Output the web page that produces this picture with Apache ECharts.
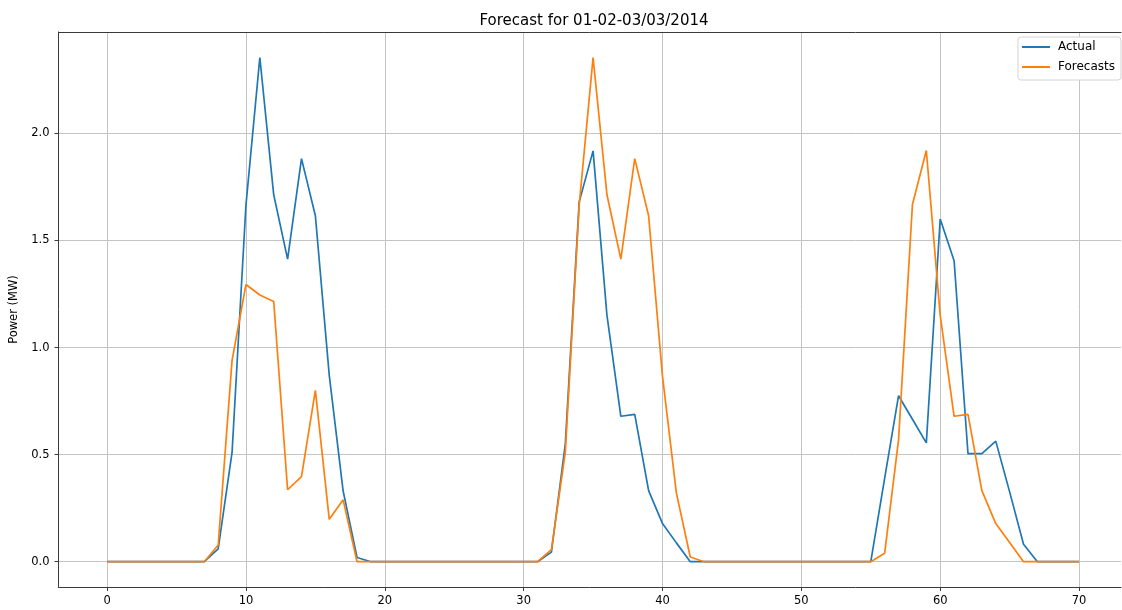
<!DOCTYPE html>
<html>
<head>
<meta charset="utf-8">
<script src="https://cdn.jsdelivr.net/npm/echarts@6/dist/echarts.min.js"></script>
<style>
html,body{margin:0;padding:0;background:#fff;}
#main{width:1122px;height:610px;}
</style>
</head>
<body>
<div id="main"></div>
<script>
var titleText = 'Forecast for 01-02-03/03/2014';
var yAxisName = 'Power (MW)';
var seriesNames = ['Actual', 'Forecasts'];
var xTicks = [0, 10, 20, 30, 40, 50, 60, 70];
var yTicks = [0, 0.5, 1.0, 1.5, 2.0];

var actual = [
  0, 0, 0, 0, 0, 0, 0, 0, 0.06, 0.51,
  1.665, 2.354, 1.713, 1.413, 1.882, 1.615, 0.87, 0.33, 0.02, 0,
  0, 0, 0, 0, 0, 0, 0, 0, 0, 0,
  0, 0, 0.045, 0.55, 1.68, 1.918, 1.15, 0.679, 0.688, 0.332,
  0.178, 0.088, 0, 0, 0, 0, 0, 0, 0, 0,
  0, 0, 0, 0, 0, 0, 0.39, 0.775, 0.665, 0.555,
  1.60, 1.405, 0.505, 0.505, 0.563, 0.326, 0.082, 0, 0, 0,
  0
];
var forecasts = [
  0, 0, 0, 0, 0, 0, 0, 0, 0.078, 0.94,
  1.294, 1.245, 1.215, 0.336, 0.397, 0.80, 0.198, 0.289, 0, 0,
  0, 0, 0, 0, 0, 0, 0, 0, 0, 0,
  0, 0, 0.056, 0.51, 1.665, 2.354, 1.713, 1.413, 1.882, 1.615,
  0.865, 0.32, 0.022, 0, 0, 0, 0, 0, 0, 0,
  0, 0, 0, 0, 0, 0, 0.04, 0.57, 1.668, 1.92,
  1.15, 0.679, 0.688, 0.332, 0.178, 0.09, 0, 0, 0, 0,
  0
];

function pairs(arr){ return arr.map(function(v,i){ return [i, v]; }); }

var chart = echarts.init(document.getElementById('main'), null, {renderer:'canvas'});
var font = 'DejaVu Sans';
var spine = '#3a3a3a';
var gridCol = '#c4c4c4';
chart.setOption({
  animation: false,
  backgroundColor: '#fff',
  title: {
    text: titleText,
    left: 589, top: 9, textAlign: 'center',
    textStyle: {fontFamily: font, fontSize: 15, fontWeight: 'normal', color: '#000'}
  },
  legend: {
    data: seriesNames,
    orient: 'vertical',
    right: 1, top: 37,
    icon: 'rect',
    itemWidth: 28, itemHeight: 2,
    itemGap: 6,
    padding: [3, 6, 6, 4],
    backgroundColor: '#fff',
    borderColor: '#d4d4d4', borderWidth: 1, borderRadius: 3,
    textStyle: {fontFamily: font, fontSize: 12, color: '#000', lineHeight: 14, padding: [0, 0, 0, 3]}
  },
  grid: {left: 58.5, top: 32, right: 1, bottom: 23, show: false, containLabel: false},
  xAxis: [{
    type: 'value', min: -3.5, max: 73.02, position: 'bottom',
    axisLine: {show: true, onZero: false, lineStyle: {color: spine, width: 1}},
    axisTick: {show: true, inside: false, length: 4, lineStyle: {color: spine}, customValues: xTicks},
    axisLabel: {customValues: xTicks, fontFamily: font, fontSize: 11.5, color: '#000', margin: 8},
    splitLine: {show: true, lineStyle: {color: gridCol, width: 1}}
  }, {
    type: 'value', min: -3.5, max: 73.02, position: 'top',
    axisLine: {show: true, onZero: false, lineStyle: {color: spine, width: 1}},
    axisTick: {show: false}, axisLabel: {show: false}, splitLine: {show: false}
  }],
  yAxis: {
    type: 'value', min: -0.118, max: 2.473,
    name: yAxisName, nameLocation: 'middle', nameGap: 34, nameRotate: 90,
    nameTextStyle: {fontFamily: font, fontSize: 11.5, color: '#000'},
    axisLine: {show: true, onZero: false, lineStyle: {color: spine, width: 1}},
    axisTick: {show: true, inside: false, length: 4, lineStyle: {color: spine}, customValues: yTicks},
    axisLabel: {customValues: yTicks, fontFamily: font, fontSize: 11.5, color: '#000', margin: 9,
      formatter: function(v){ return v.toFixed(1); }},
    splitLine: {show: true, lineStyle: {color: gridCol, width: 1}}
  },
  series: [
    {name: seriesNames[0], type: 'line', data: pairs(actual), showSymbol: false, symbol: 'none',
      lineStyle: {color: '#1f77b4', width: 1.7}, itemStyle: {color: '#1f77b4'}, z: 2},
    {name: seriesNames[1], type: 'line', data: pairs(forecasts), showSymbol: false, symbol: 'none',
      lineStyle: {color: '#ff7f0e', width: 1.7}, itemStyle: {color: '#ff7f0e'}, z: 3}
  ]
});
</script>
</body>
</html>
